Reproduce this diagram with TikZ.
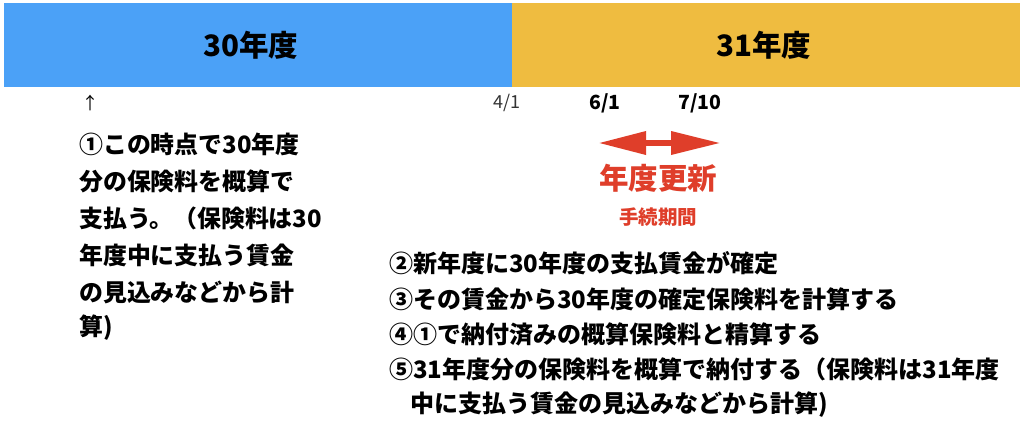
\documentclass[tikz,border=0pt]{standalone}
\usepackage{fontspec}
\setmainfont{Noto Sans CJK JP}
\usetikzlibrary{arrows.meta}
\definecolor{barblue}{HTML}{4BA1F7}
\definecolor{baryellow}{HTML}{EFBC40}
\definecolor{accred}{HTML}{DF3E2A}
\definecolor{dategray}{HTML}{333333}
\tikzset{
  bartitle/.style={font=\fontsize{29.5}{32}\selectfont\bfseries, text=black, inner sep=0pt},
  lefttext/.style={font=\fontsize{23.9}{26}\selectfont\bfseries, anchor=west, inner sep=0pt},
  righttext/.style={font=\fontsize{24}{26}\selectfont\bfseries, anchor=west, inner sep=0pt},
  datebold/.style={font=\fontsize{19.5}{22}\selectfont\bfseries, inner sep=0pt},
  datereg/.style={font=\fontsize{18}{20}\selectfont, text=dategray, inner sep=0pt},
}
\begin{document}
\begin{tikzpicture}[x=1pt,y=-1pt]
\useasboundingbox (0,0) rectangle (1024,429);
\fill[white] (0,0) rectangle (1024,429);
% bars
\fill[barblue] (4,3) rectangle (512,87);
\fill[baryellow] (512,3) rectangle (1020,87);
\node[bartitle] (t30) at (251,45) {30年度};
\node[bartitle] (t31) at (764,45) {31年度};
% dates
\node[font=\fontsize{17}{18}\selectfont, inner sep=0pt] (up) at (90,103) {↑};
\node[datereg] (d41) at (507,103) {4/1};
\node[datebold] (d61) at (605,103) {6/1};
\node[datebold] (d710) at (700,103) {7/10};
% double arrow
\coordinate (al) at (598,143);
\coordinate (ar) at (721,143);
\draw[accred, line width=6.5pt, {Triangle[length=48pt,width=22pt]}-{Triangle[length=50pt,width=22pt]}] (al) -- (ar);
\node[text=accred, font=\fontsize{29.5}{32}\selectfont\bfseries, inner sep=0pt] (koushin) at (658,178) {年度更新};
\node[text=accred, font=\fontsize{19.5}{22}\selectfont\bfseries, inner sep=0pt] (kikan) at (658,217) {手続期間};
% left text
\node[lefttext] (l1) at (79,144) {①この時点で30年度};
\node[lefttext] (l2) at (79,181) {分の保険料を概算で};
\node[lefttext] (l3) at (79,218) {支払う。（保険料は30};
\node[lefttext] (l4) at (79,255) {年度中に支払う賃金};
\node[lefttext] (l5) at (79,292) {の見込みなどから計};
\node[lefttext] (l6) at (79,328) {算)};
% right text
\node[righttext] (r1) at (389,263) {②新年度に30年度の支払賃金が確定};
\node[righttext] (r2) at (389,299) {③その賃金から30年度の確定保険料を計算する};
\node[righttext] (r3) at (389,334) {④①で納付済みの概算保険料と精算する};
\node[righttext] (r4) at (389,369) {⑤31年度分の保険料を概算で納付する（保険料は31年度};
\node[righttext] (r5) at (410,405) {中に支払う賃金の見込みなどから計算)};
\end{tikzpicture}
\end{document}
